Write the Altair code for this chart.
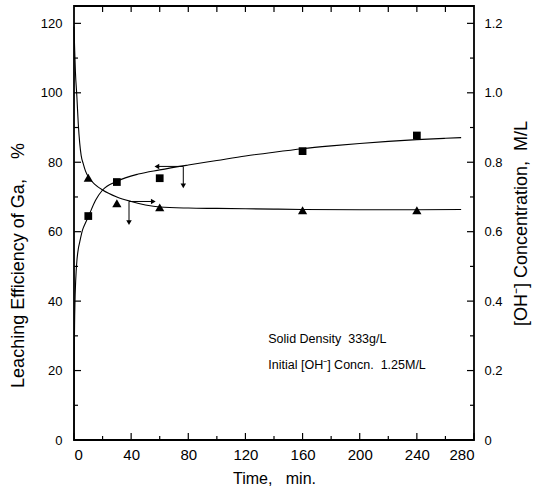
import altair as alt
import pandas as pd

# Measured points
t_pts = [10, 30, 60, 160, 240]
leach_pts = [64.5, 74.3, 75.4, 83.2, 87.7]
oh_pts = [0.755, 0.682, 0.670, 0.662, 0.662]

# Fitted curves
t_leach = [0, 0.15, 0.4, 0.7, 1, 1.5, 2, 3, 4, 6, 8, 10, 15, 20, 30, 45, 60, 80, 100,
           120, 140, 160, 180, 200, 220, 240, 260, 271]
leach_fit = [0, 20, 33, 40, 44, 48.5, 51.5, 55, 57, 60.5, 62.5, 64.3, 69, 72, 74.5, 76.6,
             77.8, 79.2, 80.5, 81.8, 82.9, 83.9, 84.7, 85.4, 86.0, 86.5, 86.9, 87.1]
t_oh = [0, 0.5, 1, 2, 3, 4, 5, 6.5, 8, 10, 15, 20, 30, 40, 50, 60, 80, 100, 140, 160,
        200, 240, 271]
oh_fit = [1.19, 1.12, 1.06, 0.99, 0.91, 0.855, 0.82, 0.795, 0.775, 0.758, 0.735, 0.72,
          0.70, 0.687, 0.677, 0.671, 0.668, 0.667, 0.665, 0.664, 0.663, 0.663, 0.664]

# Axis ticks
x_major = [0, 40, 80, 120, 160, 200, 240, 280]
x_minor = [20, 60, 100, 140, 180, 220, 260]
x_top = [20, 40, 60, 80, 100, 120, 140, 160, 180, 200, 220, 240, 260]
left_major = [20, 40, 60, 80, 100, 120]
left_minor = [10, 30, 50, 70, 90, 110]
right_major = [0.2, 0.4, 0.6, 0.8, 1.0, 1.2]
right_minor = [0.1, 0.3, 0.5, 0.7, 0.9, 1.1]

# Arrows pointing each curve to its own axis
arrow_left_t = [58, 76.5]
arrow_left_y = 78.8
arrow_left_drop = 73.2
arrow_right_t = [38.5, 55.5]
arrow_right_y = 0.687
arrow_right_drop = 0.626

notes = ["Solid Density\u00a0\u00a0333g/L", "Initial [OH\u207b] Concn.\u00a0\u00a01.25M/L"]
notes_t = [136, 136]
notes_y = [29.1, 21.6]

W, H = 400, 434
FONT = "Liberation Sans"

xscale = alt.Scale(domain=[0, 280], nice=False, zero=False)
lscale = alt.Scale(domain=[0, 125], nice=False)
rscale = alt.Scale(domain=[0, 1.25], nice=False)

x_axis = alt.Axis(values=x_major, title="Time,\u00a0\u00a0\u00a0min.", ticks=False, domain=False,
                  grid=False, labelFontSize=15, titleFontSize=16, labelPadding=7,
                  titlePadding=8, labelFont=FONT, titleFont=FONT, titleFontWeight="normal",
                  labelColor="black", titleColor="black")
left_axis = alt.Axis(values=[0] + left_major, title="Leaching Efficiency of Ga,\u00a0\u00a0\u00a0\u00a0%",
                     ticks=False, domain=False, grid=False, labelFontSize=13, titleFontSize=18,
                     labelPadding=12, titlePadding=13, labelFont=FONT, titleFont=FONT,
                     titleFontWeight="normal", labelColor="black", titleColor="black",
                     titleY=259)
right_axis = alt.Axis(values=[0] + right_major, orient="right",
                      title="[OH\u207b] Concentration,\u00a0\u00a0M/L", ticks=False, domain=False,
                      grid=False, labelFontSize=13, titleFontSize=18, labelPadding=10,
                      titlePadding=28, titleAngle=270, labelFont=FONT, titleFont=FONT,
                      titleFontWeight="normal", labelColor="black", titleColor="black",
                      labelExpr="datum.value == 0 ? '0' : format(datum.value, '.1f')")

df_lp = pd.DataFrame({"t": t_pts, "v": leach_pts})
df_op = pd.DataFrame({"t": t_pts, "v": oh_pts})
df_lf = pd.DataFrame({"t": t_leach, "v": leach_fit})
df_of = pd.DataFrame({"t": t_oh, "v": oh_fit})

X = alt.X("t:Q", scale=xscale, axis=x_axis)

# ---- left-axis group: leaching efficiency ----
leach_line = alt.Chart(df_lf).mark_line(color="black", strokeWidth=1.1, interpolate="monotone").encode(
    x=X, y=alt.Y("v:Q", scale=lscale, axis=left_axis))
leach_sq = alt.Chart(df_lp).mark_square(color="black", size=60, opacity=1).encode(
    x="t:Q", y="v:Q")

arr1 = pd.DataFrame({"t": [arrow_left_t[0]], "t2": [arrow_left_t[1]], "v": [arrow_left_y]})
arr1_h = alt.Chart(arr1).mark_rule(color="black", strokeWidth=1).encode(x="t:Q", x2="t2", y="v:Q")
arr1_head = alt.Chart(arr1).mark_point(shape="triangle-left", filled=True, color="black",
                                       size=30, opacity=1).encode(x="t:Q", y="v:Q")
arr1v = pd.DataFrame({"t": [arrow_left_t[1]], "v": [arrow_left_y], "v2": [arrow_left_drop]})
arr1_v = alt.Chart(arr1v).mark_rule(color="black", strokeWidth=1).encode(x="t:Q", y="v:Q", y2="v2")
arr1_vhead = alt.Chart(arr1v).mark_point(shape="triangle-down", filled=True, color="black",
                                         size=30, opacity=1).encode(x="t:Q", y="v2:Q")

note_df = pd.DataFrame({"t": notes_t, "v": notes_y, "txt": notes})
note_txt = alt.Chart(note_df).mark_text(align="left", baseline="middle", fontSize=12.5, font=FONT,
                                        color="black").encode(x="t:Q", y="v:Q", text="txt:N")

lmaj = alt.Chart(pd.DataFrame({"v": left_major})).mark_rule(color="black", strokeWidth=1.2).encode(
    y="v:Q", x=alt.value(0), x2=alt.value(7))
lmin = alt.Chart(pd.DataFrame({"v": left_minor})).mark_rule(color="black", strokeWidth=1.2).encode(
    y="v:Q", x=alt.value(0), x2=alt.value(4))
bmaj = alt.Chart(pd.DataFrame({"t": x_major})).mark_rule(color="black", strokeWidth=1.2).encode(
    x="t:Q", y=alt.value(H), y2=alt.value(H - 7))
bmin = alt.Chart(pd.DataFrame({"t": x_minor})).mark_rule(color="black", strokeWidth=1.2).encode(
    x="t:Q", y=alt.value(H), y2=alt.value(H - 4))
tmaj = alt.Chart(pd.DataFrame({"t": x_top})).mark_rule(color="black", strokeWidth=1.2).encode(
    x="t:Q", y=alt.value(0), y2=alt.value(6))

left_group = alt.layer(leach_line, leach_sq, arr1_h, arr1_head, arr1_v, arr1_vhead,
                       note_txt, lmaj, lmin, bmaj, bmin, tmaj)

# ---- right-axis group: hydroxide concentration ----
oh_line = alt.Chart(df_of).mark_line(color="black", strokeWidth=1.1, interpolate="monotone").encode(
    x=X, y=alt.Y("v:Q", scale=rscale, axis=right_axis))
oh_tri = alt.Chart(df_op).mark_point(shape="triangle-up", filled=True, color="black", size=85,
                                     opacity=1).encode(x="t:Q", y="v:Q")

arr2 = pd.DataFrame({"t": [arrow_right_t[0]], "t2": [arrow_right_t[1]], "v": [arrow_right_y]})
arr2_h = alt.Chart(arr2).mark_rule(color="black", strokeWidth=1).encode(x="t:Q", x2="t2", y="v:Q")
arr2_head = alt.Chart(arr2).mark_point(shape="triangle-right", filled=True, color="black",
                                       size=30, opacity=1).encode(x="t2:Q", y="v:Q")
arr2v = pd.DataFrame({"t": [arrow_right_t[0]], "v": [arrow_right_y], "v2": [arrow_right_drop]})
arr2_v = alt.Chart(arr2v).mark_rule(color="black", strokeWidth=1).encode(x="t:Q", y="v:Q", y2="v2")
arr2_vhead = alt.Chart(arr2v).mark_point(shape="triangle-down", filled=True, color="black",
                                         size=30, opacity=1).encode(x="t:Q", y="v2:Q")

rmaj = alt.Chart(pd.DataFrame({"v": right_major})).mark_rule(color="black", strokeWidth=1.2).encode(
    y="v:Q", x=alt.value(W), x2=alt.value(W - 7))
rmin = alt.Chart(pd.DataFrame({"v": right_minor})).mark_rule(color="black", strokeWidth=1.2).encode(
    y="v:Q", x=alt.value(W), x2=alt.value(W - 4))

right_group = alt.layer(oh_line, oh_tri, arr2_h, arr2_head, arr2_v, arr2_vhead, rmaj, rmin)

chart = alt.layer(left_group, right_group).resolve_scale(y="independent").properties(
    width=W, height=H,
    autosize=alt.AutoSizeParams(type="none"),
    padding={"left": 74, "top": 6, "right": 69, "bottom": 52},
    background="white",
).configure_view(stroke="black", strokeWidth=1.8)

chart.save("out.html", embed_options={"renderer": "svg", "actions": False})
